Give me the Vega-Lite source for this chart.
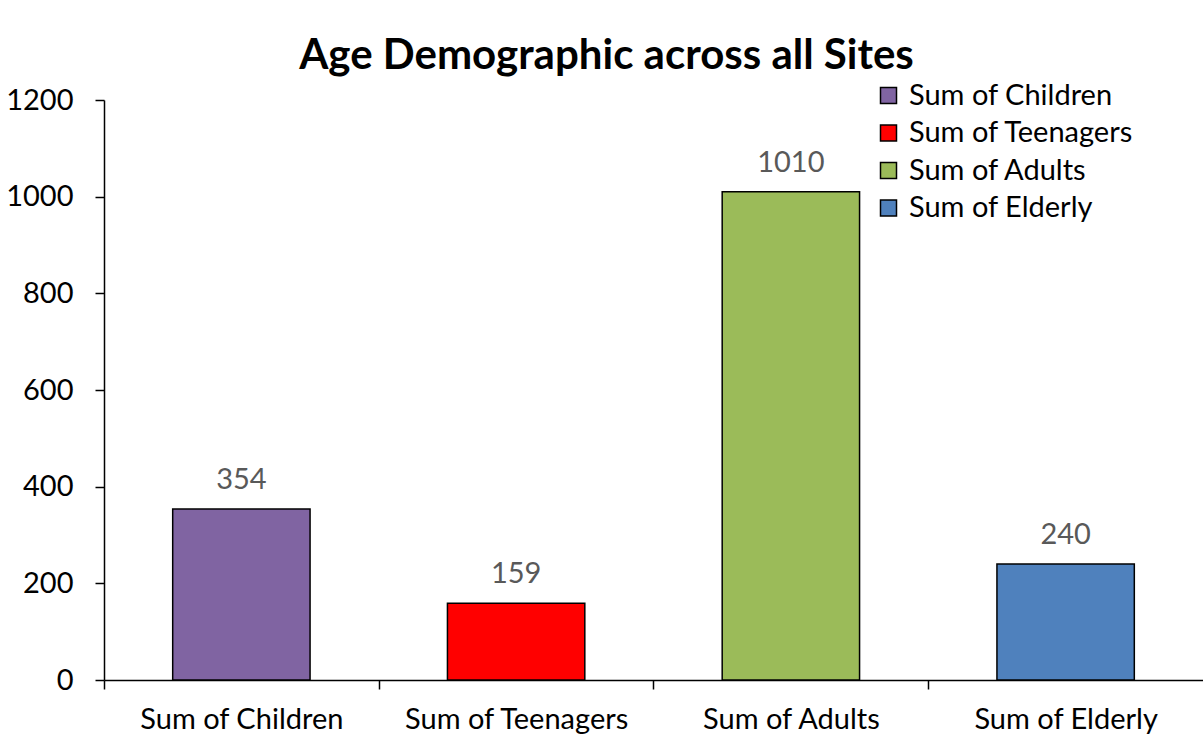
{
  "$schema": "https://vega.github.io/schema/vega-lite/v6.json",
  "autosize": "none",
  "width": 1099,
  "height": 580,
  "padding": {"left": 104, "top": 100, "right": 0, "bottom": 60},
  "background": "white",
  "title": {
    "text": "Age Demographic across all Sites",
    "font": "Lato",
    "fontSize": 42,
    "fontWeight": "bold",
    "color": "black",
    "anchor": "middle",
    "dx": -47,
    "offset": 3
  },
  "data": {
    "values": [
      {"category": "Sum of Children", "value": 354},
      {"category": "Sum of Teenagers", "value": 159},
      {"category": "Sum of Adults", "value": 1010},
      {"category": "Sum of Elderly", "value": 240}
    ]
  },
  "encoding": {
    "x": {
      "field": "category",
      "type": "nominal",
      "sort": null,
      "scale": {"paddingInner": 0.5, "paddingOuter": 0.25},
      "axis": {
        "title": null,
        "labelAngle": 0,
        "tickOffset": -137.4,
        "labelOffset": 137.4,
        "tickSize": 9,
        "labelPadding": 16,
        "labelFontSize": 29,
        "labelFont": "Lato",
        "labelColor": "black",
        "labelLimit": 400,
        "domainColor": "black",
        "tickColor": "black",
        "domainWidth": 1.5,
        "tickWidth": 1.5
      }
    },
    "y": {
      "field": "value",
      "type": "quantitative",
      "scale": {"domain": [0, 1200]},
      "axis": {
        "title": null,
        "values": [0, 200, 400, 600, 800, 1000, 1200],
        "format": "d",
        "grid": false,
        "tickSize": 9,
        "labelPadding": 22,
        "labelFontSize": 29,
        "labelFont": "Lato",
        "labelColor": "black",
        "domainColor": "black",
        "tickColor": "black",
        "domainWidth": 1.5,
        "tickWidth": 1.5
      }
    }
  },
  "layer": [
    {
      "mark": {"type": "bar", "stroke": "black", "strokeWidth": 1.5},
      "encoding": {
        "color": {
          "field": "category",
          "type": "nominal",
          "sort": null,
          "scale": {
            "domain": ["Sum of Children", "Sum of Teenagers", "Sum of Adults", "Sum of Elderly"],
            "range": ["#8064A2", "#FF0000", "#9BBB59", "#4F81BD"]
          },
          "legend": {
            "title": null,
            "orient": "none",
            "legendX": 770,
            "legendY": -19,
            "symbolType": "square",
            "symbolSize": 256,
            "symbolStrokeColor": "black",
            "symbolStrokeWidth": 1.5,
            "symbolOpacity": 1,
            "labelFont": "Lato",
            "labelFontSize": 29,
            "labelColor": "black",
            "labelOffset": 6,
            "rowPadding": 7.5,
            "labelLimit": 400
          }
        }
      }
    },
    {
      "mark": {"type": "text", "baseline": "bottom", "dy": -14, "font": "Lato", "fontSize": 29, "color": "#595959"},
      "encoding": {
        "text": {"field": "value", "type": "quantitative"}
      }
    }
  ],
  "config": {"view": {"stroke": null}}
}
